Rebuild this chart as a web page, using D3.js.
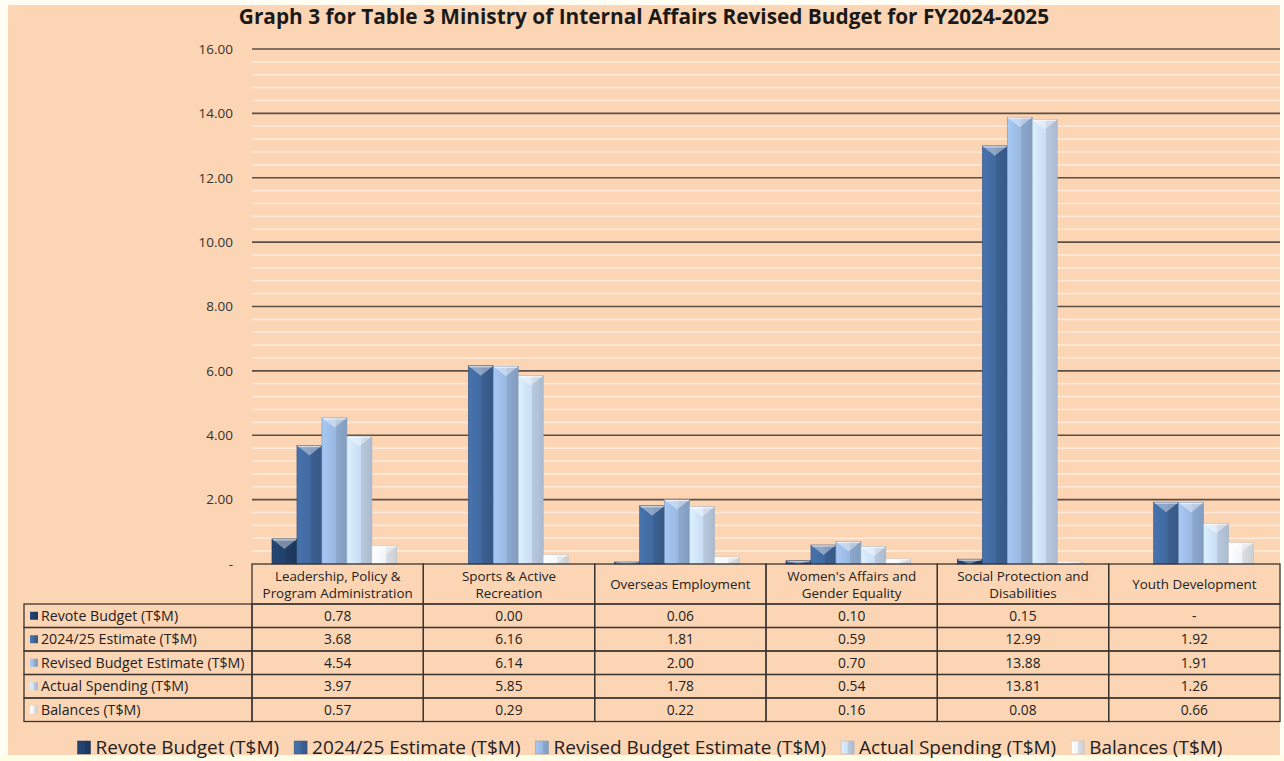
<!DOCTYPE html>
<html>
<head>
<meta charset="utf-8">
<script src="https://cdn.jsdelivr.net/npm/d3@7"></script>
<style>
  html, body { margin: 0; padding: 0; background: #fffdf4; }
  svg { display: block; }
  text { font-family: "Open Sans", "Noto Sans", sans-serif; }
</style>
</head>
<body>
<div id="chart"></div>
<script>
// 类别（表格列）
const categories = [
  ['Leadership, Policy &', 'Program Administration'],
  ['Sports & Active', 'Recreation'],
  ['Overseas Employment'],
  ["Women's Affairs and", 'Gender Equality'],
  ['Social Protection and', 'Disabilities'],
  ['Youth Development']
];

// 系列名称
const seriesNames = [
  'Revote Budget (T$M)',
  '2024/25 Estimate (T$M)',
  'Revised Budget Estimate (T$M)',
  'Actual Spending (T$M)',
  'Balances (T$M)'
];

// 各系列数值（null 表示 "-"）
const revoteBudget   = [0.78, 0.00, 0.06, 0.10, 0.15, null];
const estimate2425   = [3.68, 6.16, 1.81, 0.59, 12.99, 1.92];
const revisedBudget  = [4.54, 6.14, 2.00, 0.70, 13.88, 1.91];
const actualSpending = [3.97, 5.85, 1.78, 0.54, 13.81, 1.26];
const balances       = [0.57, 0.29, 0.22, 0.16, 0.08, 0.66];

const seriesValues = [revoteBudget, estimate2425, revisedBudget, actualSpending, balances];

// y 轴刻度
const yTicks = [0, 2, 4, 6, 8, 10, 12, 14, 16];

const title = 'Graph 3 for Table 3 Ministry of Internal Affairs Revised Budget for FY2024-2025';

// 系列颜色（基色）
const colors = ['#21406b', '#41699f', '#99b8e0', '#c9dcf3', '#eef2f8'];

const W = 1284, H = 761;
const svg = d3.select('#chart').append('svg')
  .attr('width', W).attr('height', H);

// 背景
svg.append('rect').attr('x', 0).attr('y', 0).attr('width', W).attr('height', H).attr('fill', '#fffdf4');
svg.append('rect').attr('x', 0).attr('y', 755).attr('width', W).attr('height', 6).attr('fill', '#fffde6');
svg.append('rect').attr('x', 8).attr('y', 5).attr('width', 1272).attr('height', 750).attr('fill', '#fcd5b4');

// 渐变定义
const defs = svg.append('defs');
colors.forEach((c, i) => {
  const g = defs.append('linearGradient').attr('id', 'grad' + i)
    .attr('x1', '0%').attr('x2', '100%').attr('y1', '0%').attr('y2', '0%');
  const base = d3.color(c);
  g.append('stop').attr('offset', '0%').attr('stop-color', base.brighter(0.25));
  g.append('stop').attr('offset', '55%').attr('stop-color', base);
  g.append('stop').attr('offset', '56%').attr('stop-color', base.darker(0.25));
  g.append('stop').attr('offset', '100%').attr('stop-color', base.darker(0.45));
});

// 标题
svg.append('text')
  .attr('x', 644).attr('y', 24)
  .attr('text-anchor', 'middle')
  .attr('font-size', 20.8).attr('font-weight', 'bold')
  .attr('fill', '#1a1a1a')
  .text(title);

// 比例尺
const plotLeft = 252, plotRight = 1280;
const x0 = d3.scaleBand().domain(d3.range(categories.length)).range([plotLeft, plotRight]).padding(0);
const x1 = d3.scaleBand().domain(d3.range(seriesNames.length))
  .range([0, x0.bandwidth()]).paddingInner(0).paddingOuter(0.93).align(0.43);
const y = d3.scaleLinear().domain([0, 16]).range([564, 49]);

// 次网格线
const minor = d3.range(0, 16.001, 0.4).filter(v => Math.abs(v / 2 - Math.round(v / 2)) > 0.01);
svg.append('g').selectAll('line').data(minor).enter().append('line')
  .attr('x1', plotLeft).attr('x2', plotRight)
  .attr('y1', d => y(d)).attr('y2', d => y(d))
  .attr('stroke', '#fdeadb').attr('stroke-width', 1.6);

// 主网格线
svg.append('g').selectAll('line').data(yTicks.filter(d => d > 0)).enter().append('line')
  .attr('x1', plotLeft).attr('x2', plotRight)
  .attr('y1', d => y(d)).attr('y2', d => y(d))
  .attr('stroke', '#5b5047').attr('stroke-width', 1.6);

// y 轴
const yAxis = svg.append('g')
  .attr('transform', `translate(${plotLeft},0)`)
  .call(d3.axisLeft(y).tickValues(yTicks).tickSize(0).tickPadding(19)
    .tickFormat(d => d === 0 ? '-' : d.toFixed(2)));
yAxis.select('.domain').remove();
yAxis.selectAll('text')
  .attr('font-size', 13.5).attr('fill', '#333')
  .style('font-family', '"Open Sans", "Noto Sans", sans-serif');

// 柱子
const barData = [];
seriesValues.forEach((vals, s) => {
  vals.forEach((v, c) => {
    if (v !== null && v > 0) barData.push({ s, c, v });
  });
});

const bars = svg.append('g').selectAll('g.bar').data(barData).enter().append('g').attr('class', 'bar');

bars.append('rect')
  .attr('x', d => x0(d.c) + x1(d.s))
  .attr('y', d => y(d.v))
  .attr('width', x1.bandwidth())
  .attr('height', d => y(0) - y(d.v))
  .attr('fill', d => `url(#grad${d.s})`)
  .attr('stroke', d => d3.color(colors[d.s]).darker(0.6))
  .attr('stroke-width', 0.6);

// 顶部斜面高光
bars.append('path')
  .attr('d', d => {
    const xa = x0(d.c) + x1(d.s), w = x1.bandwidth();
    const yt = y(d.v), h = Math.min(w * 0.4, y(0) - yt);
    return `M${xa},${yt}L${xa + w},${yt}L${xa + w / 2},${yt + h}Z`;
  })
  .attr('fill', '#ffffff').attr('opacity', 0.4);

bars.append('line')
  .attr('x1', d => x0(d.c) + x1(d.s) + 1)
  .attr('x2', d => x0(d.c) + x1(d.s) + x1.bandwidth() - 1)
  .attr('y1', d => y(d.v) + 1).attr('y2', d => y(d.v) + 1)
  .attr('stroke', '#ffffff').attr('stroke-opacity', 0.6).attr('stroke-width', 1.2);

// 表格
const headTop = 564, headBottom = 604, rowH = 23.5;
const tableLeft = 24;
const lineColor = '#3b3530';
const table = svg.append('g');

// 表头单元格
categories.forEach((lines, c) => {
  table.append('rect')
    .attr('x', x0(c)).attr('y', headTop)
    .attr('width', x0.bandwidth()).attr('height', headBottom - headTop)
    .attr('fill', 'none').attr('stroke', lineColor).attr('stroke-width', 1.3);
  const cx = x0(c) + x0.bandwidth() / 2;
  const cy = (headTop + headBottom) / 2;
  lines.forEach((t, i) => {
    table.append('text')
      .attr('x', cx)
      .attr('y', cy + (i - (lines.length - 1) / 2) * 17 + 5)
      .attr('text-anchor', 'middle')
      .attr('font-size', 13.4).attr('fill', '#222')
      .text(t);
  });
});

// 数据行
seriesNames.forEach((name, s) => {
  const ry = headBottom + s * rowH;
  table.append('rect')
    .attr('x', tableLeft).attr('y', ry)
    .attr('width', plotLeft - tableLeft).attr('height', rowH)
    .attr('fill', 'none').attr('stroke', lineColor).attr('stroke-width', 1.3);
  table.append('rect')
    .attr('x', tableLeft + 6).attr('y', ry + rowH / 2 - 4)
    .attr('width', 8).attr('height', 8)
    .attr('fill', `url(#grad${s})`);
  table.append('text')
    .attr('x', tableLeft + 17).attr('y', ry + rowH / 2 + 5)
    .attr('font-size', 14.2).attr('fill', '#222')
    .text(name);
  seriesValues[s].forEach((v, c) => {
    table.append('rect')
      .attr('x', x0(c)).attr('y', ry)
      .attr('width', x0.bandwidth()).attr('height', rowH)
      .attr('fill', 'none').attr('stroke', lineColor).attr('stroke-width', 1.3);
    table.append('text')
      .attr('x', x0(c) + x0.bandwidth() / 2).attr('y', ry + rowH / 2 + 5)
      .attr('text-anchor', 'middle')
      .attr('font-size', 13.8).attr('fill', '#222')
      .text(v === null ? '-' : v.toFixed(2));
  });
});

// 图例
const legend = svg.append('g');
const items = legend.selectAll('g').data(seriesNames).enter().append('g');
items.append('rect')
  .attr('width', 13).attr('height', 13).attr('y', -13)
  .attr('fill', (d, i) => `url(#grad${i})`)
  .attr('stroke', (d, i) => d3.color(colors[i]).darker(0.6)).attr('stroke-width', 0.5);
items.append('text')
  .attr('x', 18).attr('y', 0)
  .attr('font-size', 19).attr('fill', '#222')
  .text(d => d);
let lx = 0;
const offsets = [];
items.each(function() {
  offsets.push(lx);
  lx += this.getBBox().width + 15;
});
const total = lx - 15;
const startX = 650 - total / 2;
items.attr('transform', (d, i) => `translate(${startX + offsets[i]},${754})`);
</script>
</body>
</html>
